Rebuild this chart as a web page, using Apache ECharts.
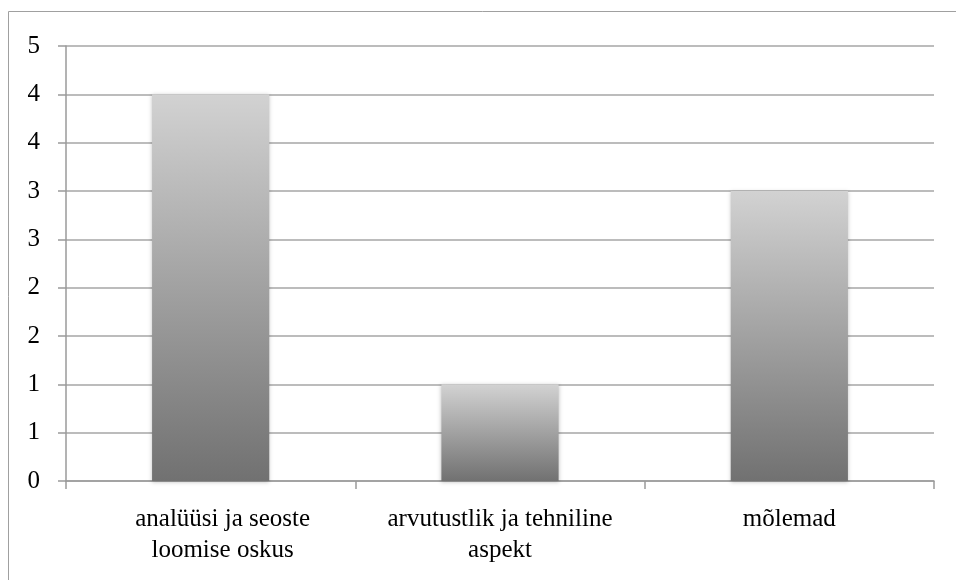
<!DOCTYPE html>
<html>
<head>
<meta charset="utf-8">
<script src="https://cdn.jsdelivr.net/npm/echarts@6/dist/echarts.min.js"></script>
<style>
  html, body { margin: 0; padding: 0; background: #fff; }
  #chart { width: 956px; height: 580px; }
</style>
</head>
<body>
<div id="chart"></div>
<script>
// data
var categories = ['analüüsi ja seoste\nloomise oskus', 'arvutustlik ja tehniline\naspekt', 'mõlemad']
var values = [4, 1, 3]

var chart = echarts.init(document.getElementById('chart'))
var fontFam = '"Liberation Serif", "DejaVu Serif", serif'

// first label sits a little right of its slot in the original
var catData = categories.map(function (c, i) {
  return i === 0 ? { value: c, textStyle: { padding: [0, 0, 0, 24] } } : c
})

chart.setOption({
  animation: false,
  graphic: [
    {
      type: 'rect',
      shape: { x: 8.5, y: 11.5, width: 1000, height: 1000 },
      style: { fill: 'none', stroke: '#a0a0a0', lineWidth: 1 },
      silent: true
    }
  ],
  grid: {
    left: 66,
    right: 22,
    top: 46,
    bottom: 99
  },
  xAxis: {
    type: 'category',
    data: catData,
    axisLine: { lineStyle: { color: '#9a9a9a', width: 1.5 } },
    axisTick: { show: true, length: 8, inside: false, lineStyle: { color: '#9a9a9a', width: 1.5 } },
    axisLabel: {
      color: '#000',
      fontFamily: fontFam,
      fontSize: 25,
      lineHeight: 31,
      margin: 23,
      interval: 0
    },
    splitLine: { show: false }
  },
  yAxis: {
    type: 'value',
    min: 0,
    max: 4.5,
    interval: 0.5,
    axisLine: { show: true, lineStyle: { color: '#9a9a9a', width: 1.5 } },
    axisTick: { show: true, length: 8, lineStyle: { color: '#9a9a9a', width: 1.5 } },
    axisLabel: {
      color: '#000',
      fontFamily: fontFam,
      fontSize: 25,
      margin: 26,
      formatter: function (v) { return String(Math.round(v)) }
    },
    splitLine: { show: true, lineStyle: { color: '#a6a6a6', width: 1.5 } }
  },
  series: [
    {
      type: 'bar',
      data: values,
      barWidth: '40.5%',
      itemStyle: {
        color: new echarts.graphic.LinearGradient(0, 0, 0, 1, [
          { offset: 0, color: '#d2d2d2' },
          { offset: 1, color: '#717171' }
        ]),
        shadowColor: 'rgba(0,0,0,0.25)',
        shadowBlur: 4,
        shadowOffsetY: 1
      }
    }
  ]
})
</script>
</body>
</html>
